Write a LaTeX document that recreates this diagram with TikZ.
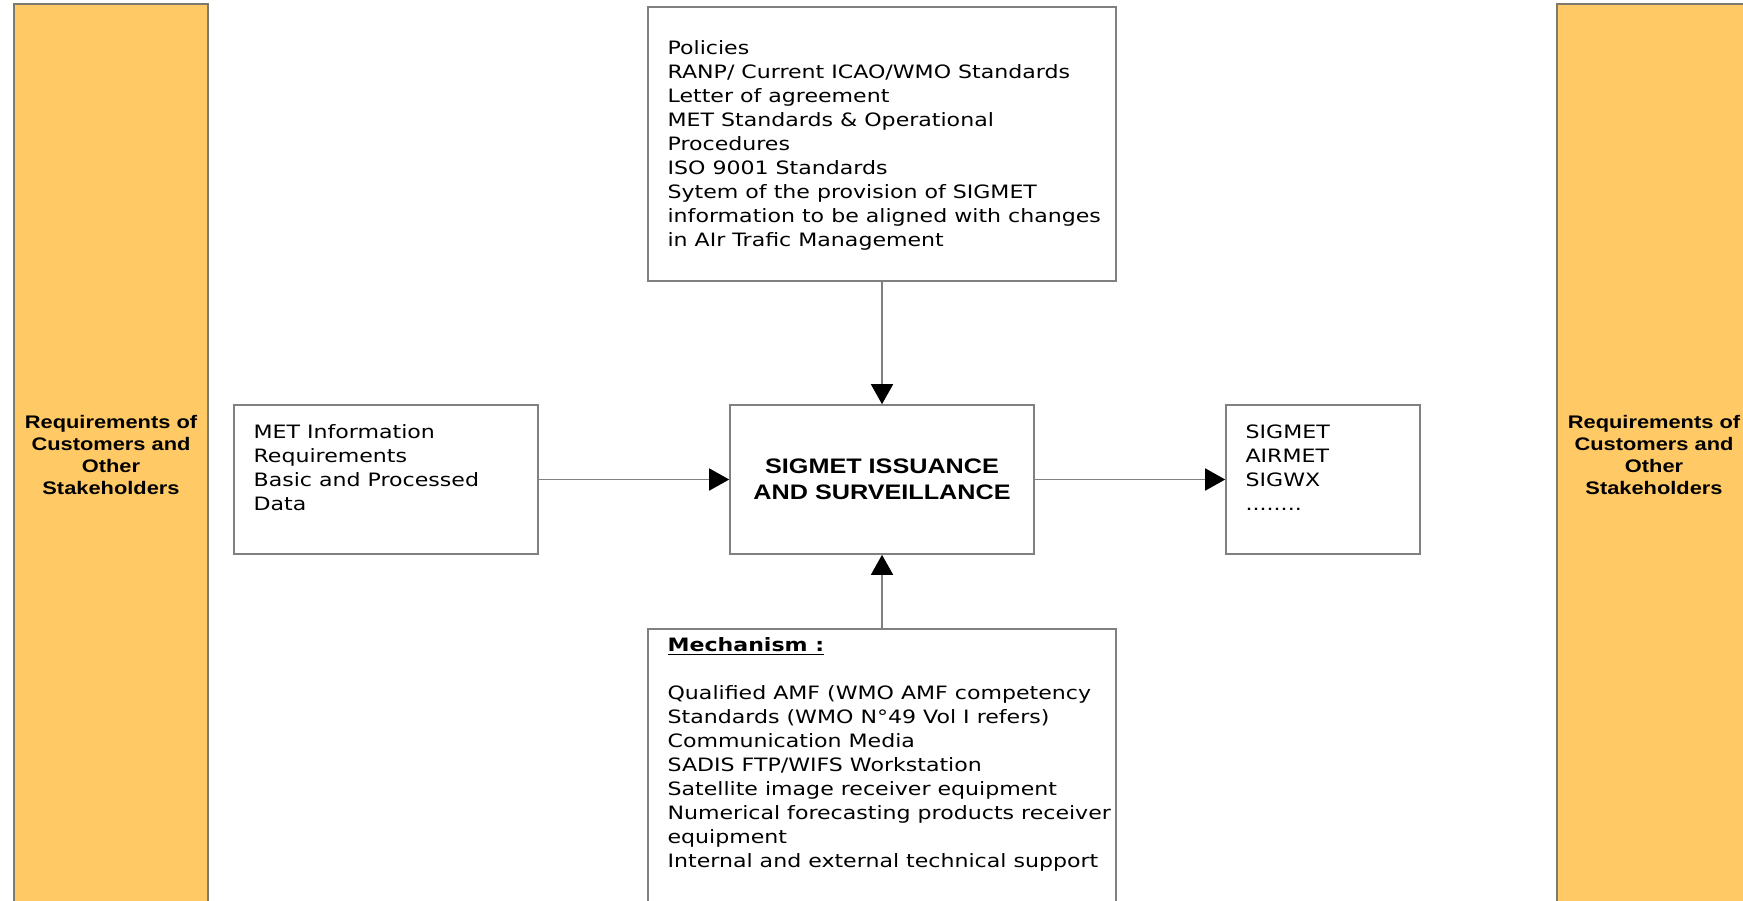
\documentclass[tikz,border=0pt]{standalone}
\usepackage{fontspec}
\setmainfont{DejaVu Sans}[FakeStretch=1.2]
\newfontfamily\arialfont{Liberation Sans}[FakeStretch=1.2]
\usetikzlibrary{arrows.meta, positioning}

\definecolor{reqorange}{HTML}{FFCA66}
\definecolor{edgegray}{HTML}{808080}
\definecolor{bargray}{HTML}{7F7A6E}

\tikzset{
  box/.style={draw=edgegray, line width=0.8pt, fill=white, inner sep=0pt},
  bar/.style={draw=bargray, line width=0.8pt, fill=reqorange, inner sep=0pt,
    minimum width=97pt, minimum height=451pt, align=center,
    font=\arialfont\bfseries\fontsize{9.1}{11}\selectfont},
  txt/.style={anchor=north west, align=left, inner sep=0pt,
    font=\fontsize{9.2}{12}\selectfont},
  flow/.style={draw=edgegray, line width=0.8pt,
    -{Triangle[length=10pt, width=11pt, color=black]}}
}

\begin{document}
\begin{tikzpicture}[x=0.5pt, y=-0.5pt]
    \useasboundingbox (0,0) rectangle (1743,900);
    \clip (0,0) rectangle (1743,900);
    % side bars
    \node[bar] (custL) at (111,455) {Requirements of\\Customers and\\Other\\Stakeholders};
    \node[bar] (custR) at (1654,455) {Requirements of\\Customers and\\Other\\Stakeholders};
    % boxes
    \node[box, minimum width=234pt, minimum height=137pt] (policy) at (882,144) {};
    \node[box, minimum width=152pt, minimum height=74.5pt, align=center,
        font=\arialfont\bfseries\fontsize{10.5}{13}\selectfont] (core) at (882,479.5)
        {SIGMET ISSUANCE\\AND SURVEILLANCE};
    \node[box, minimum width=152pt, minimum height=74.5pt] (metreq) at (386,479.5) {};
    \node[box, minimum width=97pt, minimum height=74.5pt] (products) at (1323,479.5) {};
    \node[box, minimum width=234pt, minimum height=143pt] (mech) at (882,772) {};
    % box texts
    \node[txt] (policytxt) at ([shift={(20,34)}]policy.north west)
        {Policies\\RANP/ Current ICAO/WMO Standards\\Letter of agreement\\
         MET Standards \& Operational\\Procedures\\ISO 9001 Standards\\
         Sytem of the provision of SIGMET\\information to be aligned with changes\\
         in AIr Trafic Management};
    \node[txt] (metreqtxt) at ([shift={(20,20)}]metreq.north west)
        {MET Information\\Requirements\\Basic and Processed\\Data};
    \node[txt] (productstxt) at ([shift={(20,20)}]products.north west)
        {SIGMET\\AIRMET\\SIGWX\\........};
    \node[txt] (mechtxt) at ([shift={(20,9)}]mech.north west)
        {\textbf{\underline{Mechanism :}}\\[12pt]
         Qualified AMF (WMO AMF competency\\Standards (WMO N°49 Vol I refers)\\
         Communication Media\\SADIS FTP/WIFS Workstation\\
         Satellite image receiver equipment\\Numerical forecasting products receiver\\
         equipment\\Internal and external technical support};
    % connectors
    \draw[flow] (policy.south) -- (core.north);
    \draw[flow] (mech.north) -- (core.south);
    \draw[flow] (metreq.east) -- (core.west);
    \draw[flow] (core.east) -- (products.west);
\end{tikzpicture}
\end{document}
